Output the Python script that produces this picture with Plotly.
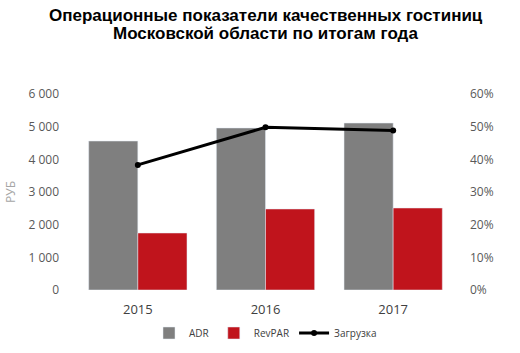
import plotly.graph_objects as go

years = ["2015", "2016", "2017"]
adr = [4560, 4960, 5110]
revpar = [1745, 2480, 2510]
occupancy = [0.383, 0.498, 0.488]

title_lines = ["Операционные показатели качественных гостиниц",
               "Московской области по итогам года"]

fig = go.Figure()
fig.add_trace(go.Bar(x=years, y=adr, name="ADR", marker_color="#7f7f7f"))
fig.add_trace(go.Bar(x=years, y=revpar, name="RevPAR", marker_color="#c0141c"))
fig.add_trace(go.Scatter(x=years, y=occupancy, name="Загрузка", yaxis="y2",
                         mode="lines+markers", line=dict(color="black", width=3),
                         marker=dict(color="black", size=6)))

plot_top, plot_h = 94, 196
for i, line in enumerate(title_lines):
    fig.add_annotation(text="<b>" + line + "</b>",
                       xref="paper", yref="paper", x=0.5, xanchor="center",
                       y=1 + (plot_top - (16 + 18 * i)) / plot_h, yanchor="middle",
                       showarrow=False, align="center",
                       font=dict(family="Liberation Sans", size=17, color="black"))

fig.update_layout(
    width=520, height=353,
    margin=dict(l=74, r=63, t=94, b=63, autoexpand=False),
    paper_bgcolor="white", plot_bgcolor="white",
    barmode="group", bargap=0.23, bargroupgap=0,
    font=dict(family="Open Sans", size=12, color="#595959"),
    xaxis=dict(showgrid=False, showline=False, ticks="", ticklabelstandoff=10, automargin=False,
               tickfont=dict(size=13, color="#404040")),
    yaxis=dict(range=[0, 6000], dtick=1000, showgrid=False, showline=False, zeroline=False,
               tickformat=",d", ticklabelstandoff=14, automargin=False,
               title=dict(text="РУБ", font=dict(size=12, color="#a6a6a6"), standoff=10)),
    yaxis2=dict(range=[0, 0.6], dtick=0.1, overlaying="y", side="right", showgrid=False,
                automargin=False,
                showline=False, zeroline=False, tickformat=".0%", ticklabelstandoff=12),
    separators=", ",
    legend=dict(orientation="h", x=0.5, xanchor="center", yref="container",
                y=1 - 333 / 353, yanchor="middle",
                font=dict(size=10, color="#404040"), itemwidth=30),
    showlegend=True,
)
fig.write_html("out.html")
